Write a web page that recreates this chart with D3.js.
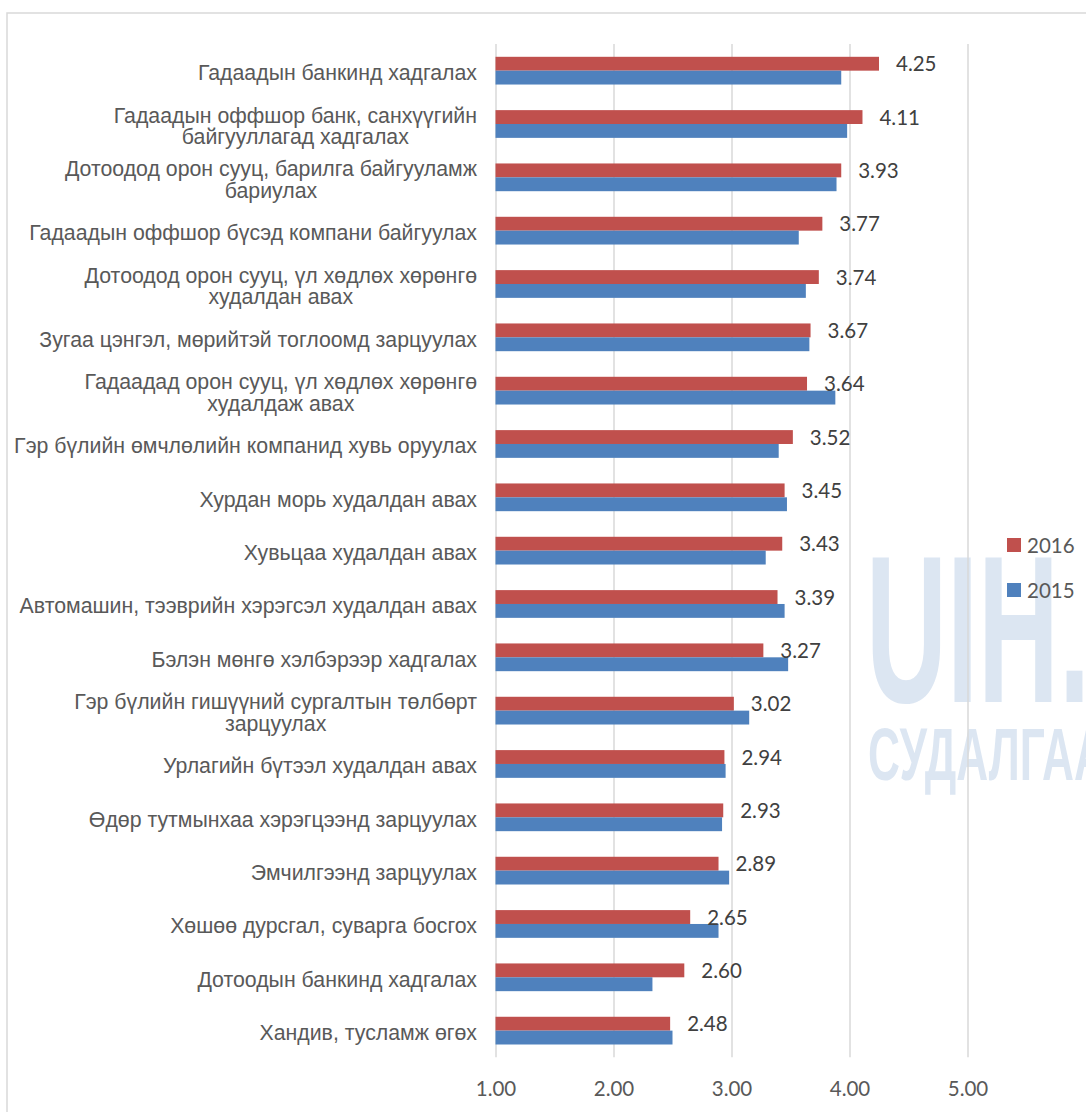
<!DOCTYPE html>
<html>
<head>
<meta charset="utf-8">
<script src="https://cdn.jsdelivr.net/npm/d3@7"></script>
<style>
  body { margin: 0; background: #fff; }
  svg { display: block; }
</style>
</head>
<body>
<svg width="1086" height="1112"></svg>
<script>
// data
var categories = [
    'Гадаадын банкинд хадгалах',
    'Гадаадын оффшор банк, санхүүгийн\nбайгууллагад хадгалах',
    'Дотоодод орон сууц, барилга байгууламж\nбариулах',
    'Гадаадын оффшор бүсэд компани байгуулах',
    'Дотоодод орон сууц, үл хөдлөх хөрөнгө\nхудалдан авах',
    'Зугаа цэнгэл, мөрийтэй тоглоомд зарцуулах',
    'Гадаадад орон сууц, үл хөдлөх хөрөнгө\nхудалдаж авах',
    'Гэр бүлийн өмчлөлийн компанид хувь оруулах',
    'Хурдан морь худалдан авах',
    'Хувьцаа худалдан авах',
    'Автомашин, тээврийн хэрэгсэл худалдан авах',
    'Бэлэн мөнгө хэлбэрээр хадгалах',
    'Гэр бүлийн гишүүний сургалтын төлбөрт\nзарцуулах',
    'Урлагийн бүтээл худалдан авах',
    'Өдөр тутмынхаа хэрэгцээнд зарцуулах',
    'Эмчилгээнд зарцуулах',
    'Хөшөө дурсгал, суварга босгох',
    'Дотоодын банкинд хадгалах',
    'Хандив, тусламж өгөх'
];
var values2016 = [4.25, 4.11, 3.93, 3.77, 3.74, 3.67, 3.64, 3.52, 3.45, 3.43, 3.39, 3.27, 3.02, 2.94, 2.93, 2.89, 2.65, 2.60, 2.48];
var values2015 = [3.93, 3.98, 3.89, 3.57, 3.63, 3.66, 3.88, 3.40, 3.47, 3.29, 3.45, 3.48, 3.15, 2.95, 2.92, 2.98, 2.89, 2.33, 2.50];
var seriesNames = ['2016', '2015'];
var xTicks = [1, 2, 3, 4, 5];

var colors = {'2016': '#C0504D', '2015': '#4F81BD'};
var numFont = 'Lato, "Open Sans", sans-serif';
var labelFont = '"Liberation Sans", Arial, sans-serif';

var svg = d3.select('svg');

// plot area
var plot = {l: 495.5, r: 967.5, t: 44, b: 1057.3};

var xScale = d3.scaleLinear().domain([1, 5]).range([plot.l, plot.r]);
var yScale = d3.scaleBand().domain(d3.range(categories.length))
    .range([plot.t, plot.b]).paddingInner(0.48).paddingOuter(0.24);
var ySub = d3.scaleBand().domain(seriesNames).range([0, yScale.bandwidth()]);

// outer frame
svg.append('rect')
    .attr('x', 7).attr('y', 13)
    .attr('width', 1200).attr('height', 1200)
    .attr('fill', 'none')
    .attr('stroke', '#D9D9D9')
    .attr('stroke-width', 1.5);

// faded watermark
var wm = svg.append('g').attr('fill', '#4F81BD').attr('fill-opacity', 0.2)
    .style('font-family', '"Liberation Sans Narrow", "Liberation Sans", sans-serif')
    .style('font-weight', 'bold');
wm.append('text').attr('x', 866).attr('y', 702)
    .style('font-size', '209px')
    .attr('textLength', 224).attr('lengthAdjust', 'spacingAndGlyphs')
    .text('UIH.');
wm.append('text').attr('x', 868).attr('y', 780)
    .style('font-size', '74px')
    .attr('textLength', 238).attr('lengthAdjust', 'spacingAndGlyphs')
    .text('СУДАЛГАА');

// vertical grid lines
var grid = d3.axisBottom(xScale).tickValues(xTicks)
    .tickSize(-(plot.b - plot.t)).tickFormat('');
svg.append('g')
    .attr('class', 'grid')
    .attr('transform', 'translate(0,' + plot.b + ')')
    .call(grid)
    .call(function(g) {
        g.select('.domain').remove();
        g.selectAll('line').attr('stroke', '#D9D9D9').attr('stroke-width', 1.5);
    });

// x axis tick labels
var xAxis = d3.axisBottom(xScale).tickValues(xTicks)
    .tickSize(0).tickPadding(0).tickFormat(d3.format('.2f'));
svg.append('g')
    .attr('transform', 'translate(0,' + plot.b + ')')
    .call(xAxis)
    .call(function(g) {
        g.select('.domain').remove();
        g.selectAll('text')
            .attr('y', 39).attr('dy', null)
            .attr('fill', '#595959')
            .style('font-family', numFont)
            .style('font-size', '20.5px');
    });

// bars
var rows = categories.map(function(c, i) {
    return {i: i, label: c, v: {'2016': values2016[i], '2015': values2015[i]}};
});

var rowG = svg.selectAll('.row')
    .data(rows)
    .enter().append('g')
    .attr('class', 'row')
    .attr('transform', function(d) { return 'translate(0,' + yScale(d.i) + ')'; });

rowG.selectAll('rect')
    .data(function(d) { return seriesNames.map(function(s) { return {s: s, v: d.v[s]}; }); })
    .enter().append('rect')
    .attr('x', xScale(1))
    .attr('y', function(d) { return ySub(d.s); })
    .attr('width', function(d) { return xScale(d.v) - xScale(1); })
    .attr('height', ySub.bandwidth())
    .attr('fill', function(d) { return colors[d.s]; });

// value labels for 2016
rowG.append('text')
    .attr('x', function(d) { return xScale(d.v['2016']) + 17; })
    .attr('y', ySub('2016') + ySub.bandwidth() / 2 + 7.5)
    .attr('fill', '#404040')
    .style('font-family', numFont)
    .style('font-size', '20.5px')
    .text(function(d) { return d3.format('.2f')(d.v['2016']); });

// category labels, multi-line ones centred on their widest line
var labelRight = 477;
var lineH = 21.7;
rowG.each(function(d) {
    var lines = d.label.split('\n');
    var cy = yScale.bandwidth() / 2;
    var t = d3.select(this).append('text')
        .attr('fill', '#595959')
        .style('font-family', labelFont)
        .style('font-size', '21.3px');
    var spans = lines.map(function(line, k) {
        return t.append('tspan')
            .attr('y', cy + 9.5 + (k - (lines.length - 1) / 2) * lineH)
            .text(line);
    });
    var maxW = d3.max(spans, function(s) { return s.node().getComputedTextLength(); });
    spans.forEach(function(s) {
        s.attr('x', labelRight - maxW / 2).attr('text-anchor', 'middle');
    });
});

// legend
var legend = svg.selectAll('.legend')
    .data(seriesNames)
    .enter().append('g')
    .attr('class', 'legend')
    .attr('transform', function(d, i) { return 'translate(1007,' + (538 + i * 45) + ')'; });
legend.append('rect')
    .attr('width', 14).attr('height', 14)
    .attr('fill', function(d) { return colors[d]; });
legend.append('text')
    .attr('x', 20).attr('y', 14.5)
    .attr('fill', '#595959')
    .style('font-family', numFont)
    .style('font-size', '20.5px')
    .text(function(d) { return d; });
</script>
</body>
</html>
